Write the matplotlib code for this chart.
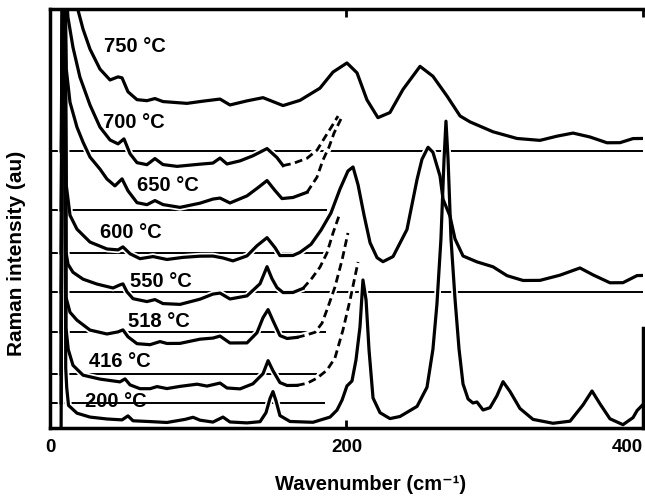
import matplotlib
matplotlib.use('Agg')
import matplotlib.pyplot as plt

plt.rcParams['font.family'] = ['Liberation Sans', 'DejaVu Sans']
plt.rcParams['font.weight'] = 'bold'

# Raman spectra of the sample annealed at increasing temperature.
# x: wavenumber (cm-1), y: intensity (au), each spectrum offset onto its own baseline.
temps = ['750 °C', '700 °C', '650 °C', '600 °C', '550 °C', '518 °C', '416 °C', '200 °C']
baselines = [277, 218, 175, 136, 96, 54, 25, 0]
baseline_ends = [400, 186.8, 184.6, 400, 186.1, 180.1, 185.5, None]

x_750 = [7.5, 8.5, 17.0, 18.2, 18.9, 22.3, 27.0, 33.7, 40.5, 45.9, 48.6, 52.6, 58.7, 65.4, 70.8, 76.2,
         92.4, 103.2, 114.7, 121.4, 132.9, 143.7, 157.2, 168.6, 182.1, 190.9, 200.3, 207.1, 213.8,
         221.2, 229.3, 238.1, 249.6, 258.3, 267.8, 276.6, 283.3, 298.8, 315.0, 330.5, 342.0, 352.8,
         364.2, 375.7, 384.5, 393.3, 400]
y_750 = [277, 450, 450, 426, 417.8, 398.8, 378.8, 358.9, 348, 351.1, 350.1, 336.2, 328.3, 327.3, 329.4,
         326.4, 324.6, 326.8, 328.9, 323, 327.1, 330.3, 322.4, 327.6, 339.8, 355.9, 365, 355.1, 328.1,
         310.3, 315.4, 338.5, 361.6, 351.7, 331.9, 312, 306.1, 296.2, 289.5, 287.6, 291.8, 294.9,
         291, 285.2, 285.3, 289.4, 289.5]

x_700 = [7.5, 8.5, 10.5, 12.1, 15.5, 20.2, 27.0, 33.7, 40.5, 45.9, 49.9, 54.0, 58.7, 65.4, 70.8, 76.2,
         85.7, 101.2, 109.9, 114.7, 119.4, 128.2, 136.9, 146.4, 153.1, 157.2]
y_700 = [218, 450, 450, 410.8, 380.7, 350.8, 322.9, 300.9, 288, 284.1, 289.1, 274.2, 265.3, 263.3,
         269.4, 263.4, 261.6, 263.8, 264.9, 269.9, 264, 267.1, 272.2, 279.4, 270.4, 262.4]
x_700_dash = [157.2, 163.9, 173.4, 180.1, 185.5, 190.2, 194.3]
y_700_dash = [262.4, 264.5, 269.7, 277.8, 290.8, 301.9, 311.9]

x_650 = [7.5, 8.5, 10.2, 11.0, 13.5, 18.2, 22.3, 27.0, 33.7, 38.4, 43.8, 48.6, 52.6, 58.7, 65.4, 70.8,
         76.2, 87.7, 101.2, 109.9, 114.7, 121.4, 132.9, 140.3, 146.4, 151.8, 156.5, 163.9, 173.4]
y_650 = [175, 450, 450, 358.7, 325.7, 300.8, 285.8, 270.9, 258.9, 249, 242.1, 249.1, 237.2, 225.3,
         223.3, 227.4, 223.4, 220.6, 224.8, 228.9, 229.9, 225, 232.1, 240.3, 247.4, 237.4, 229.4,
         230.5, 235.7]
x_650_dash = [173.4, 180.1, 184.1, 188.2, 191.6, 197.6]
y_650_dash = [235.7, 250.8, 267.8, 280.9, 294.9, 313]

x_600 = [7.5, 8.5, 10.2, 11.0, 13.5, 18.2, 27.0, 38.4, 45.9, 49.2, 54.0, 60.7, 69.5, 78.9, 89.7, 101.2,
         109.9, 116.7, 123.4, 132.9, 139.6, 146.4, 151.8, 155.1, 163.9, 168.6, 176.1, 182.8, 189.5,
         195.6, 201.0, 204.4, 207.8, 211.8, 215.9, 220.6, 224.6, 231.4, 240.8, 247.6, 250.9, 255.0,
         258.3, 263.1, 265.1, 269.8, 273.2, 278.6, 288.0, 298.8, 308.3, 319.1, 330.5, 344.0, 357.5,
         366.3, 377.7, 386.5, 396.0, 400]
y_600 = [136, 450, 450, 242.7, 212.7, 198.8, 185.9, 179, 178.1, 181.1, 174.2, 169.3, 171.4, 168.5,
         170.6, 171.8, 171.9, 170, 167.1, 172.1, 182.2, 190.3, 180.3, 172.4, 172.5, 175.6, 183.7,
         197.8, 214.9, 238.9, 257, 261, 243.1, 213.1, 185.2, 170.3, 166.3, 171.4, 198.5, 248.6,
         268.6, 280.7, 275.7, 251.8, 228.8, 211.9, 189, 172, 166.1, 161.2, 152.3, 147.5, 147.6,
         152.8, 160, 153.1, 145.2, 145.3, 152.4, 152.5]

x_550 = [7.5, 8.5, 10.2, 10.8, 12.2, 15.5, 22.3, 31.7, 42.5, 47.2, 49.2, 51.9, 56.0, 65.4, 70.8, 76.2,
         87.7, 101.2, 109.9, 114.7, 121.4, 132.9, 141.7, 146.4, 149.7, 153.1, 157.2, 163.9, 170.7]
y_550 = [96, 450, 450, 175.6, 163.6, 155.7, 148.8, 143.9, 140, 143.1, 144.1, 136.2, 129.3, 126.4,
         128.4, 124.4, 123.6, 128.8, 133.9, 134.9, 129, 132.1, 144.3, 161.3, 149.4, 140.4, 135.4,
         135.5, 139.6]
x_550_dash = [170.7, 176.7, 182.1, 186.8, 190.9, 195.6]
y_550_dash = [139.6, 149.8, 160.8, 174.9, 194.9, 214.9]

x_518 = [7.5, 8.5, 10.2, 10.8, 13.5, 18.2, 27.0, 38.4, 45.9, 49.2, 52.6, 58.7, 67.5, 74.2, 78.9, 87.7,
         101.2, 109.9, 114.7, 121.4, 132.9, 139.6, 143.7, 147.1, 150.4, 155.1, 159.9, 166.6]
y_518 = [54, 450, 450, 130.6, 115.7, 107.8, 97.9, 94, 96.1, 98.1, 91.2, 84.3, 83.3, 86.4, 84.5, 84.6,
         88.8, 89.9, 91.9, 85, 85.1, 95.2, 110.3, 118.4, 107.4, 92.4, 89.5, 90.6]
x_518_dash = [166.6, 172.0, 178.8, 183.5, 187.5, 192.2, 197.0, 201.0]
y_518_dash = [90.6, 92.6, 95.7, 104.8, 120.9, 140.9, 167.9, 195]

x_416 = [7.5, 8.5, 10.2, 10.8, 12.3, 15.5, 22.3, 33.7, 47.2, 50.6, 54.0, 60.7, 67.5, 72.2, 78.9, 87.7,
         99.2, 105.9, 114.7, 119.4, 128.2, 136.9, 143.7, 147.1, 150.4, 155.1, 159.9, 166.6]
y_416 = [25, 450, 450, 100, 78.6, 62.7, 52.8, 48.9, 46.1, 49.1, 43.1, 39.3, 39.3, 41.4, 39.4, 41.6,
         43.8, 41.9, 44.9, 40, 39.1, 44.2, 54.3, 67.3, 57.3, 45.4, 42.5, 42.6]
x_416_dash = [166.6, 173.4, 180.1, 186.8, 192.2, 197.6, 202.4, 207.8]
y_416_dash = [42.6, 44.7, 49.8, 57.8, 69.9, 97.9, 128, 166]

x_200 = [7.5, 8.5, 10.2, 10.6, 11.3, 12.5, 18.2, 27.0, 38.4, 48.6, 52.6, 56.0, 67.5, 78.9, 91.1, 96.5,
         101.2, 109.9, 116.7, 121.4, 132.9, 141.7, 145.7, 148.4, 150.4, 152.4, 155.1, 161.9, 177.4,
         188.9, 193.6, 197.0, 200.3, 203.7, 206.4, 209.1, 211.1, 213.2, 215.2, 217.9, 222.6, 229.3,
         236.1, 247.6, 254.3, 258.3, 261.0, 263.7, 265.8, 267.1, 268.5, 270.5, 273.2, 275.9, 278.6,
         282.0, 285.3, 288.0, 292.1, 296.8, 301.5, 305.6, 310.3, 317.0, 325.8, 339.3, 350.8, 359.5,
         365.6, 371.0, 377.7, 386.5, 393.3, 396.0, 400]
y_200 = [0, 450, 450, 60, 40, 22.6, 14.8, 10.9, 9, 8.1, 12.1, 7.2, 6.4, 5.5, 8.6, 10.7, 7.8, 5.9,
         10.9, 6, 5.1, 6.3, 15.3, 29.4, 36.4, 27.4, 12.4, 6.5, 5.7, 10.9, 17.9, 27.9, 42, 47, 68,
         101, 148, 128, 78, 30, 15.3, 9.4, 11.5, 21.6, 40.7, 78.7, 123.8, 188.8, 268.8, 306.8,
         268.8, 188.8, 129, 79, 44, 29, 25, 26, 18, 20.3, 32.3, 46.3, 36.5, 19.5, 8.6, 4.7, 6.8,
         23, 37, 24.1, 9.2, 3.3, 10.4, 17.4, 23.5]

solid = [(x_750, y_750), (x_700, y_700), (x_650, y_650), (x_600, y_600),
         (x_550, y_550), (x_518, y_518), (x_416, y_416), (x_200, y_200)]
dashed = [(x_700_dash, y_700_dash), (x_650_dash, y_650_dash), (x_550_dash, y_550_dash),
          (x_518_dash, y_518_dash), (x_416_dash, y_416_dash)]

# where each temperature tag sits (data coords)
label_xy = [(57.3, 381), (56.7, 305.5), (79.3, 242.5), (54.6, 195.5),
            (74.9, 146), (73.5, 106.5), (46.9, 66.5), (44.5, 26)]

fig = plt.figure(figsize=(6.45, 4.98), dpi=100)
ax = fig.add_axes([0.0775, 0.1406, 0.9194, 0.8404])

# baselines under each spectrum
for base, end in zip(baselines, baseline_ends):
    if end is None:
        continue
    ax.plot([0, end], [base, base], color='black', lw=1.4, zorder=1.5, solid_capstyle='butt')

# white casing first so crossing baselines get a small gap
for x, y in solid + dashed:
    ax.plot(x, y, color='white', lw=4.8, zorder=2.1, solid_capstyle='round')
for x, y in solid:
    ax.plot(x, y, color='black', lw=2.3, zorder=2.3, solid_joinstyle='round')
for x, y in dashed:
    ax.plot(x, y, color='black', lw=2.0, ls=(0, (2.8, 1.6)), zorder=2.3)

for t, (lx, ly) in zip(temps, label_xy):
    ax.text(lx, ly, t, ha='center', va='center', fontsize=14.5, zorder=4)

ax.set_xlim(0, 400)
ax.set_ylim(0, 418.5)
ax.set_xticks([0, 200, 400])
ax.set_xticklabels(['0', '200', '400'])
ax.set_yticks([])
ax.tick_params(axis='x', direction='in', length=6, width=2, top=True, labelsize=13.5, pad=8)
ax.get_xticklabels()[-1].set_ha('right')
for side in ['left', 'right', 'top', 'bottom']:
    ax.spines[side].set_linewidth(2.5)
ax.spines['right'].set_bounds(0, 100)

fig.text(17 / 645, 1 - 253.5 / 498, 'Raman intensity (au)', rotation=90,
         ha='center', va='center', fontsize=15)
fig.text(371 / 645, 1 - 484 / 498, 'Wavenumber (cm⁻¹)', ha='center', va='center', fontsize=14.5)

fig.savefig('out.png', dpi=100)
